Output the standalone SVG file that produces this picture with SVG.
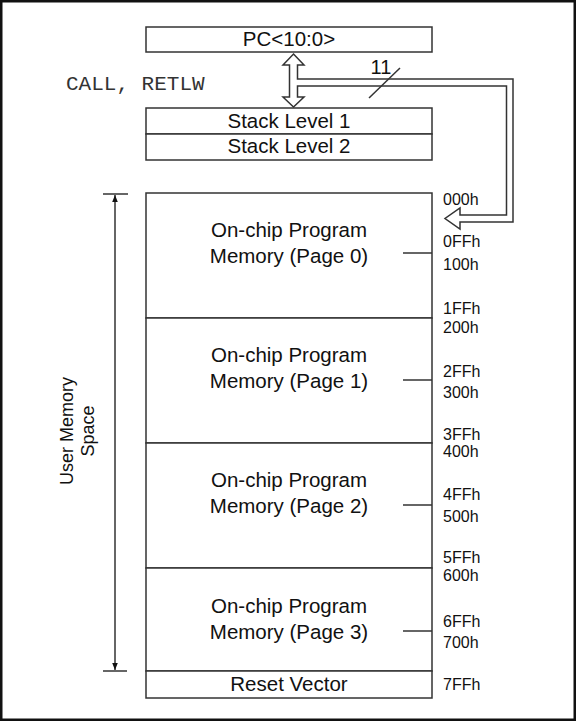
<svg xmlns="http://www.w3.org/2000/svg" width="576" height="721" viewBox="0 0 576 721">
<style>
.box{fill:#fff;stroke:#333;stroke-width:1.5}
.t{font-family:"Liberation Sans",Arial,sans-serif;font-size:20.5px;fill:#111;text-anchor:middle}
.a{font-family:"Liberation Sans",Arial,sans-serif;font-size:16px;fill:#111}
.m{font-family:"Liberation Mono","Courier New",monospace;font-size:21px;fill:#333}
.ln{fill:none;stroke:#333;stroke-width:1.5}
</style>
<defs>
<marker id="ah" viewBox="0 0 10 10" refX="10" refY="5" markerWidth="9" markerHeight="7" markerUnits="userSpaceOnUse" orient="auto">
<path d="M0,1 L10,5 L0,9 Z" fill="#111"/>
</marker>
</defs>
<rect x="1.25" y="1.25" width="573.5" height="718.5" fill="#fff" stroke="#111" stroke-width="2.5"/>

<g id="pc"><rect class="box" x="146" y="27" width="286" height="25"/><text class="t" x="289" y="46">PC&lt;10:0&gt;</text></g>
<g id="stack1"><rect class="box" x="146" y="108" width="286" height="26"/><text class="t" x="289" y="128">Stack Level 1</text></g>
<g id="stack2"><rect class="box" x="146" y="134" width="286" height="26"/><text class="t" x="289" y="153">Stack Level 2</text></g>
<g id="call-label"><text class="m" x="66" y="90">CALL, RETLW</text></g>

<g id="page0"><rect class="box" x="146" y="193" width="286" height="125"/>
<text class="t" x="289" y="237">On-chip Program</text><text class="t" x="289" y="263">Memory (Page 0)</text>
<line class="ln" x1="403" y1="253" x2="432" y2="253"/></g>
<g id="page1"><rect class="box" x="146" y="318" width="286" height="125"/>
<text class="t" x="289" y="362">On-chip Program</text><text class="t" x="289" y="388">Memory (Page 1)</text>
<line class="ln" x1="403" y1="380" x2="432" y2="380"/></g>
<g id="page2"><rect class="box" x="146" y="443" width="286" height="125"/>
<text class="t" x="289" y="487">On-chip Program</text><text class="t" x="289" y="513">Memory (Page 2)</text>
<line class="ln" x1="403" y1="505" x2="432" y2="505"/></g>
<g id="page3"><rect class="box" x="146" y="568" width="286" height="103"/>
<text class="t" x="289" y="613">On-chip Program</text><text class="t" x="289" y="639">Memory (Page 3)</text>
<line class="ln" x1="403" y1="631" x2="432" y2="631"/></g>
<g id="reset"><rect class="box" x="146" y="671" width="286" height="27"/><text class="t" x="289" y="691">Reset Vector</text></g>

<g id="addresses">
<text class="a" x="443" y="205">000h</text>
<text class="a" x="443" y="247">0FFh</text>
<text class="a" x="443" y="270">100h</text>
<text class="a" x="443" y="314">1FFh</text>
<text class="a" x="443" y="333">200h</text>
<text class="a" x="443" y="377">2FFh</text>
<text class="a" x="443" y="398">300h</text>
<text class="a" x="443" y="440">3FFh</text>
<text class="a" x="443" y="457">400h</text>
<text class="a" x="443" y="500">4FFh</text>
<text class="a" x="443" y="522">500h</text>
<text class="a" x="443" y="563">5FFh</text>
<text class="a" x="443" y="581">600h</text>
<text class="a" x="443" y="627">6FFh</text>
<text class="a" x="443" y="648">700h</text>
<text class="a" x="443" y="690">7FFh</text>
</g>

<g id="user-space">
<text class="t" transform="translate(73,431) rotate(-90)" x="0" y="0" style="font-size:18px">User Memory</text>
<text class="t" transform="translate(94,431) rotate(-90)" x="0" y="0" style="font-size:18px">Space</text>
</g>

<g id="connectors">
<path class="ln" d="M293.5,54 L304,65 L297.5,65 L297.5,79 L513,79 L513,222 L460,222 L460,229 L445,218.5 L460,208 L460,215 L506.5,215 L506.5,86 L297.5,86 L297.5,97 L304,97 L293.5,107 L283,97 L289.5,97 L289.5,65 L283,65 Z" fill="#fff"/>
<line class="ln" x1="369" y1="98" x2="400" y2="68"/>
<text class="t" x="381" y="74" style="font-size:20px">11</text>
<line class="ln" x1="103" y1="194" x2="128" y2="194"/>
<line class="ln" x1="103" y1="671" x2="127" y2="671"/>
<line class="ln" x1="115" y1="432" x2="115" y2="195" marker-end="url(#ah)"/>
<line class="ln" x1="115" y1="432" x2="115" y2="670" marker-end="url(#ah)"/>
</g>
</svg>
